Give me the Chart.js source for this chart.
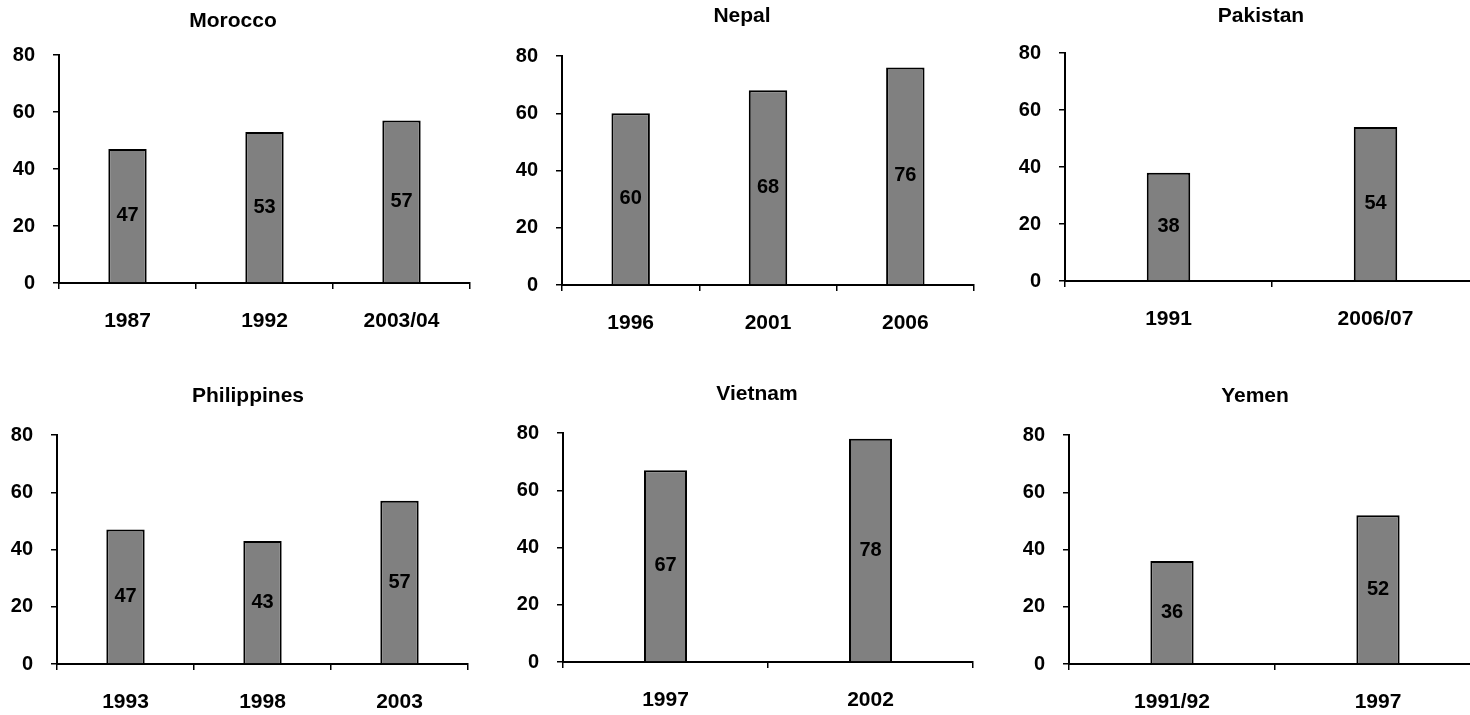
<!DOCTYPE html>
<html>
<head>
<meta charset="utf-8">
<script src="https://cdn.jsdelivr.net/npm/chart.js@4.4.1/dist/chart.umd.min.js"></script>
<style>
  html, body { margin: 0; padding: 0; background: #fff; overflow: hidden; width: 1470px; height: 715px; }
  canvas { position: absolute; }
</style>
</head>
<body>
<canvas id="morocco"></canvas>
<canvas id="nepal"></canvas>
<canvas id="pakistan"></canvas>
<canvas id="philippines"></canvas>
<canvas id="vietnam"></canvas>
<canvas id="yemen"></canvas>
<script>
// --- data ---
const moroccoYears = ['1987', '1992', '2003/04'];
const moroccoValues = [47, 53, 57];

const nepalYears = ['1996', '2001', '2006'];
const nepalValues = [60, 68, 76];

const pakistanYears = ['1991', '2006/07'];
const pakistanValues = [38, 54];

const philippinesYears = ['1993', '1998', '2003'];
const philippinesValues = [47, 43, 57];

const vietnamYears = ['1997', '2002'];
const vietnamValues = [67, 78];

const yemenYears = ['1991/92', '1997'];
const yemenValues = [36, 52];

const yTicks = [0, 20, 40, 60, 80];

const FONT = '"Liberation Sans", Arial, sans-serif';
Chart.defaults.font.family = FONT;
Chart.defaults.font.weight = 'bold';
Chart.defaults.color = '#000';

// value written in the middle of every bar
const barLabels = {
  id: 'barLabels',
  afterDatasetsDraw(chart) {
    const ctx = chart.ctx;
    const ds = chart.data.datasets[0];
    chart.getDatasetMeta(0).data.forEach((bar, i) => {
      ctx.save();
      ctx.font = 'bold 20px ' + FONT;
      ctx.fillStyle = '#000';
      ctx.textAlign = 'center';
      ctx.textBaseline = 'middle';
      ctx.fillText(String(ds.data[i]), bar.x, (bar.y + bar.base) / 2);
      ctx.restore();
    });
  }
};

// panel title, centred where the original puts it (not over the plot)
const panelTitle = {
  id: 'panelTitle',
  afterDraw(chart, args, opts) {
    const ctx = chart.ctx;
    ctx.save();
    ctx.font = 'bold 21px ' + FONT;
    ctx.fillStyle = '#000';
    ctx.textAlign = 'center';
    ctx.textBaseline = 'middle';
    ctx.fillText(opts.text, opts.x, opts.y);
    ctx.restore();
  }
};

// one panel: canvas left/top, axis left/right x, top/bottom y of the plot, title centre
function panel(id, title, labels, values, box) {
  const padR = 12, xH = 60;
  const left = box.left, top = box.top;

  const el = document.getElementById(id);
  el.width = Math.round(box.ar + padR - left);
  el.height = Math.round(box.y0 - top + xH);
  el.style.left = left + 'px';
  el.style.top = top + 'px';

  new Chart(el, {
    type: 'bar',
    data: {
      labels,
      datasets: [{
        data: values,
        backgroundColor: '#808080',
        borderColor: '#000',
        borderWidth: 2,
        barPercentage: labels.length === 3 ? 0.28 : 0.21,
        categoryPercentage: 1
      }]
    },
    options: {
      responsive: false,
      animation: false,
      devicePixelRatio: 1,
      layout: { padding: { left: 0, right: padR, top: box.y80 - top, bottom: 0 } },
      plugins: {
        legend: { display: false },
        tooltip: { enabled: false },
        title: { display: false },
        panelTitle: { text: title, x: box.tc - left, y: box.ty + 1.5 - top }
      },
      scales: {
        x: {
          grid: { display: true, drawOnChartArea: false, drawTicks: true, tickLength: 6, color: '#000', lineWidth: 1.5, offset: true },
          border: { display: true, color: '#000', width: 2 },
          ticks: { font: { size: 21, weight: 'bold' }, color: '#000', padding: 20 },
          afterFit: s => { s.height = xH; }
        },
        y: {
          min: 0,
          max: 80,
          afterBuildTicks: s => { s.ticks = yTicks.map(v => ({ value: v })); },
          grid: { display: true, drawOnChartArea: false, drawTicks: true, tickLength: 6, color: '#000', lineWidth: 1.5 },
          border: { display: true, color: '#000', width: 2 },
          ticks: { font: { size: 20, weight: 'bold' }, color: '#000', padding: 18 },
          afterFit: s => { s.width = box.ax - left; }
        }
      }
    },
    plugins: [barLabels, panelTitle]
  });
}

panel('morocco', 'Morocco', moroccoYears, moroccoValues, { left: 0, top: 0, ax: 59, ar: 470, y80: 55, y0: 283, tc: 233, ty: 20 });
panel('nepal', 'Nepal', nepalYears, nepalValues, { left: 495, top: 0, ax: 562, ar: 974, y80: 56, y0: 285, tc: 742, ty: 15 });
panel('pakistan', 'Pakistan', pakistanYears, pakistanValues, { left: 1000, top: 0, ax: 1065, ar: 1479, y80: 53, y0: 281, tc: 1261, ty: 15 });
panel('philippines', 'Philippines', philippinesYears, philippinesValues, { left: 0, top: 365, ax: 57, ar: 468, y80: 435, y0: 664, tc: 248, ty: 395 });
panel('vietnam', 'Vietnam', vietnamYears, vietnamValues, { left: 495, top: 365, ax: 563, ar: 973, y80: 433, y0: 662, tc: 757, ty: 393 });
panel('yemen', 'Yemen', yemenYears, yemenValues, { left: 1000, top: 365, ax: 1069, ar: 1481, y80: 435, y0: 664, tc: 1255, ty: 395 });
</script>
</body>
</html>
